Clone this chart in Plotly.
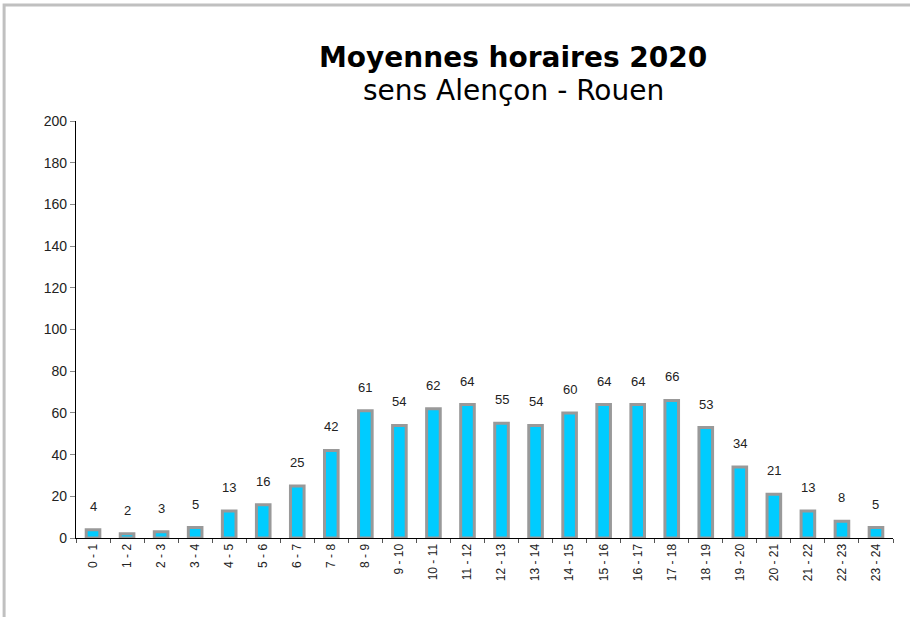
import plotly.graph_objects as go

# tranches horaires et moyennes (sens Alençon - Rouen)
hours = [f"{h} - {h + 1}" for h in range(24)]
values = [4, 2, 3, 5, 13, 16, 25, 42, 61, 54, 62, 64, 55, 54, 60, 64, 64, 66, 53, 34, 21, 13, 8, 5]
title = "Moyennes horaires 2020"
subtitle = "sens Alençon - Rouen"

FONT = "Arial, Liberation Sans, sans-serif"
TITLE_FONT = "Comic Sans MS, DejaVu Sans, sans-serif"

fig = go.Figure(go.Bar(
    x=hours, y=values, width=0.4,
    marker=dict(color="#00ccff", line=dict(color="#999999", width=3)),
    showlegend=False,
))

# etiquettes de valeurs au-dessus des barres
for h, v in zip(hours, values):
    fig.add_annotation(x=h, y=v, text=str(v), showarrow=False,
                       yanchor="bottom", yshift=14,
                       font=dict(family=FONT, size=13, color="#222222"))

fig.add_annotation(x=0.535, y=1.153, xref="paper", yref="paper", yanchor="middle",
                   text=f"<b>{title}</b>", showarrow=False,
                   font=dict(family=TITLE_FONT, size=28, color="black"))
fig.add_annotation(x=0.535, y=1.074, xref="paper", yref="paper", yanchor="middle",
                   text=subtitle, showarrow=False,
                   font=dict(family=TITLE_FONT, size=28, color="black"))

# cadre gris autour du graphique
fig.add_shape(type="rect", xref="paper", yref="paper",
              x0=-0.088, x1=1.03, y0=-0.22, y1=1.278,
              line=dict(color="#c0c0c0", width=3), fillcolor="rgba(0,0,0,0)")

fig.update_layout(
    width=910, height=617,
    margin=dict(l=76, r=17, t=121, b=79),
    paper_bgcolor="white", plot_bgcolor="white",
    font=dict(family=FONT, size=12, color="#222222"),
)
fig.update_xaxes(
    type="category", tickangle=-90, tickson="boundaries",
    ticks="outside", ticklen=4, tickcolor="#555555",
    showline=True, linecolor="black", linewidth=1.2,
    showgrid=False, tickfont=dict(size=12),
)
fig.update_yaxes(
    range=[0, 200], dtick=20, ticks="outside", ticklen=5, tickcolor="#888888",
    showline=True, linecolor="black", linewidth=1.2,
    showgrid=False, zeroline=False, tickfont=dict(size=14),
)

fig.write_html("out.html", config={"displayModeBar": False},
               post_script="document.body.style.margin='0';")
